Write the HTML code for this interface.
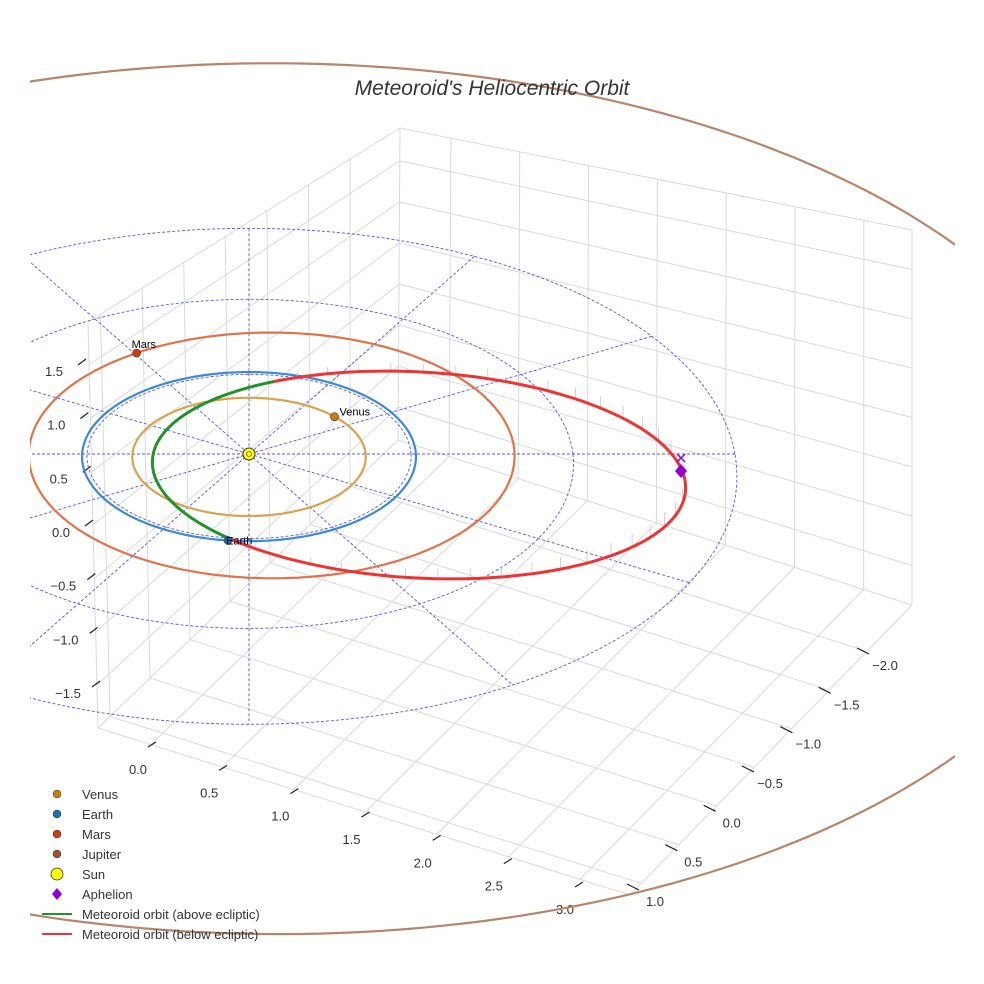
<!DOCTYPE html>
<html><head><meta charset="utf-8"><style>
html,body{margin:0;padding:0;background:#fff;}
svg{display:block;font-family:"Liberation Sans",sans-serif;}
</style></head><body>
<svg id="c" width="984" height="984" viewBox="0 0 984 984" xmlns="http://www.w3.org/2000/svg">
<defs><clipPath id="clip"><rect x="30" y="0" width="925" height="984"/></clipPath></defs>
<g id="grid"></g>
<g id="ticks"></g>
<g id="plot" clip-path="url(#clip)"></g>
<text x="492" y="95" text-anchor="middle" font-size="21" font-style="italic" fill="#333">Meteoroid's Heliocentric Orbit</text>
<g id="legend"></g>
</svg>
<script>
// ---- data ----
const xTicks = [0.0, 0.5, 1.0, 1.5, 2.0, 2.5, 3.0];
const yTicks = [-2.0, -1.5, -1.0, -0.5, 0.0, 0.5, 1.0];
const zTicks = [-1.5, -1.0, -0.5, 0.0, 0.5, 1.0, 1.5];
const planetNames = ["Venus", "Earth", "Mars", "Jupiter"];
const orbitRadius = [0.72, 1.03, 1.5, 5.27];
const orbitStretchU = [1.0, 1.0, 1.0, 0.98];
const orbitCenterU = [0.0, 0.0, 0.14, 0.16];
const orbitCenterV = [-0.02, 0.0, 0.05, 0.29];
const planetAngleDeg = [42, -97, 125, null];
const gridRings = [1, 2, 3];
const gridSpokesDeg = [0, 30, 60, 90, 120, 150];
// meteoroid orbit (screen-fitted ellipse)
const meteorEllipse = [419, 475, 267, 103, 3.2]; // cx, cy, rx, ry, rotation
const meteorNodesDeg = [134.7, 235.7]; // node angles
const aphelionPos = [681, 471];

const NS = "http://www.w3.org/2000/svg";
function mk(tag, attrs, parent){const e=document.createElementNS(NS,tag);for(const k in attrs)e.setAttribute(k,attrs[k]);parent.appendChild(e);return e;}

const SUN=[249,454], SX=162, SY=82, K=0.03;
function proj(u,v){const d=1+K*v;return [SUN[0]+SX*u/d, SUN[1]-SY*v/d];}

// ---- panes ----
const grid=document.getElementById('grid');
const FL=[98,728],FR=[630,895],BR=[912,605],BB=[398,440],TB=[400,128],TR=[912,230],TL=[88,322];
function lerp(a,b,t){return [a[0]+(b[0]-a[0])*t,a[1]+(b[1]-a[1])*t];}
function gl(p,q,name){const l=mk('line',{x1:p[0],y1:p[1],x2:q[0],y2:q[1],stroke:'#d9d9d9','stroke-width':1},grid);
}
const fx=x=>(x+0.37)/3.72, fy=y=>(1.15-y)/3.75, fz=z=>(z+1.9)/3.8;
xTicks.forEach(x=>{const f=fx(x);
 gl(lerp(FL,FR,f),lerp(BB,BR,f),'floor-gridline-x');
 gl(lerp(BB,BR,f),lerp(TB,TR,f),'wall-gridline-x');});
yTicks.forEach(y=>{const g=fy(y);
 gl(lerp(FL,BB,g),lerp(FR,BR,g),'floor-gridline-y');
 gl(lerp(FL,BB,g),lerp(TL,TB,g),'wall-gridline-y');});
zTicks.forEach(z=>{const h=fz(z);
 gl(lerp(FL,TL,h),lerp(BB,TB,h),'wall-gridline-z');
 gl(lerp(BB,TB,h),lerp(BR,TR,h),'wall-gridline-z');});
[[FL,FR],[FR,BR],[BR,BB],[BB,FL],[BB,TB],[TB,TR],[TR,BR],[TB,TL],[TL,FL]].forEach(e=>gl(e[0],e[1],'pane-edge'));

// ---- ticks ----
const tk=document.getElementById('ticks');
function tlabel(x,y,s,name){const t=mk('text',{x:x,y:y+5,'text-anchor':'middle','font-size':13,fill:'#333'},tk);t.textContent=s;
}
function tmark(x1,y1,x2,y2){const l=mk('line',{x1,y1,x2,y2,stroke:'#222','stroke-width':1.2},tk);
}
xTicks.forEach(x=>{const px=138+x*(565-138)/3, py=769+x*(909-769)/3;
 tlabel(px,py,x.toFixed(1),'x-tick-label'); tmark(px+10,py-22,px+18,py-27);});
yTicks.forEach(y=>{const t=(1-y)/3, px=655+t*(885-655), py=901+t*(665-901);
 tlabel(px,py,(y<0?'\u2212':'')+Math.abs(y).toFixed(1),'y-tick-label'); tmark(px-28,py-17,px-16,py-11);});
zTicks.forEach(z=>{const t=(1.5-z)/3, px=54+t*(68-54), py=371+t*(693-371);
 tlabel(px,py,(z<0?'\u2212':'')+Math.abs(z).toFixed(1),'z-tick-label'); tmark(px+24,py-6,px+32,py-12);});

// ---- plot ----
const plot=document.getElementById('plot');
function pathFrom(pts){return pts.map((p,i)=>(i?'L':'M')+p[0].toFixed(1)+' '+p[1].toFixed(1)).join(' ');}
function ring(cu,cv,r,n,s){s=s||1;const pts=[];for(let i=0;i<=n;i++){const a=2*Math.PI*i/n;pts.push(proj(cu+s*r*Math.cos(a),cv+r*Math.sin(a)));}return pts;}

gridRings.forEach(r=>{const p=mk('path',{d:pathFrom(ring(0,0,r,160)),fill:'none',stroke:'#5555ee','stroke-width':0.9,'stroke-dasharray':'3 2'},plot);
 });
gridSpokesDeg.forEach(d=>{const a=d*Math.PI/180,R=3;const p1=proj(R*Math.cos(a),R*Math.sin(a)),p2=proj(-R*Math.cos(a),-R*Math.sin(a));
 const l=mk('line',{x1:p1[0],y1:p1[1],x2:p2[0],y2:p2[1],stroke:'#5555ee','stroke-width':0.9,'stroke-dasharray':'3 2'},plot);
 });

const orbitColors=['#d9a24c','#3c8ad4','#e0734a','#b8846a'];
const planetColors=['#c97d0a','#1f6fb4','#cc3f0c','#a0522d'];
for(let i=0;i<planetNames.length;i++){
 const p=mk('path',{d:pathFrom(ring(orbitCenterU[i],orbitCenterV[i],orbitRadius[i],300,orbitStretchU[i])),fill:'none',stroke:orbitColors[i],'stroke-width':2.2},plot);
 
}

const [mcx,mcy,mrx,mry,mrot]=meteorEllipse;
function mpt(deg){const t=deg*Math.PI/180,r=mrot*Math.PI/180;const u=mrx*Math.cos(t),v=mry*Math.sin(t);
 return [mcx+u*Math.cos(r)-v*Math.sin(r), mcy+u*Math.sin(r)+v*Math.cos(r)];}
function arc(a0,a1){const pts=[];const n=120;for(let i=0;i<=n;i++)pts.push(mpt(a0+(a1-a0)*i/n));return pts;}
for(let d=meteorNodesDeg[1]+6; d<meteorNodesDeg[0]+360-4; d+=7){
 const p=mpt(d);const len=5+9*Math.abs(Math.sin((d-meteorNodesDeg[1])*Math.PI/(360-(meteorNodesDeg[1]-meteorNodesDeg[0]))));
 const l=mk('line',{x1:p[0],y1:p[1],x2:p[0],y2:p[1]-len,stroke:'#c8c8c8','stroke-width':0.8},plot);
 
}
const red=mk('path',{d:pathFrom(arc(meteorNodesDeg[1],meteorNodesDeg[0]+360)),fill:'none',stroke:'#ee3333','stroke-width':3},plot);

const green=mk('path',{d:pathFrom(arc(meteorNodesDeg[0],meteorNodesDeg[1])),fill:'none',stroke:'#22922a','stroke-width':3},plot);


for(let i=0;i<planetNames.length;i++){
 if(planetAngleDeg[i]===null)continue;
 const a=planetAngleDeg[i]*Math.PI/180;
 const p=proj(orbitCenterU[i]+orbitRadius[i]*Math.cos(a),orbitCenterV[i]+orbitRadius[i]*Math.sin(a));
 const c=mk('circle',{cx:p[0],cy:p[1],r:4,fill:planetColors[i],stroke:'#333','stroke-width':0.6},plot);
 
 const t=mk('text',{x:p[0]-5,y:p[1]-5,'font-size':11,fill:'#000'},plot);t.textContent=planetNames[i];
 if(i===1){t.setAttribute('x',p[0]-2);t.setAttribute('y',p[1]+4);}
 if(i===0){t.setAttribute('x',p[0]+5);t.setAttribute('y',p[1]-1);}
 
}
const sun=mk('circle',{cx:SUN[0],cy:SUN[1],r:6,fill:'#ffff00',stroke:'#333','stroke-width':1},plot);

const sunc=mk('circle',{cx:SUN[0],cy:SUN[1],r:2.5,fill:'none',stroke:'#555','stroke-width':0.8},plot);

const [ax,ay]=aphelionPos;
const dia=mk('path',{d:`M${ax} ${ay-7} L${ax+6} ${ay} L${ax} ${ay+7} L${ax-6} ${ay} Z`,fill:'#9400d3'},plot);

const xm=mk('path',{d:`M${ax-4} ${ay-17} L${ax+4} ${ay-9} M${ax+4} ${ay-17} L${ax-4} ${ay-9}`,stroke:'#9400d3','stroke-width':1.5},plot);


const lg=document.getElementById('legend');
const legendLabels=["Venus","Earth","Mars","Jupiter","Sun","Aphelion","Meteoroid orbit (above ecliptic)","Meteoroid orbit (below ecliptic)"];
legendLabels.forEach((s,i)=>{
 const y=794+i*20; let m;
 if(i<4) m=mk('circle',{cx:57,cy:y,r:4,fill:planetColors[i],stroke:'#333','stroke-width':0.5},lg);
 else if(i===4) m=mk('circle',{cx:57,cy:y,r:6,fill:'#ffff00',stroke:'#333','stroke-width':0.8},lg);
 else if(i===5) m=mk('path',{d:`M57 ${y-6} L62 ${y} L57 ${y+6} L52 ${y} Z`,fill:'#9400d3'},lg);
 else m=mk('line',{x1:42,y1:y,x2:72,y2:y,stroke:i===6?'#22922a':'#ee3333','stroke-width':2},lg);
 
 const t=mk('text',{x:82,y:y+5,'font-size':13,fill:'#333'},lg);t.textContent=s;
 
});
</script>
</body></html>
